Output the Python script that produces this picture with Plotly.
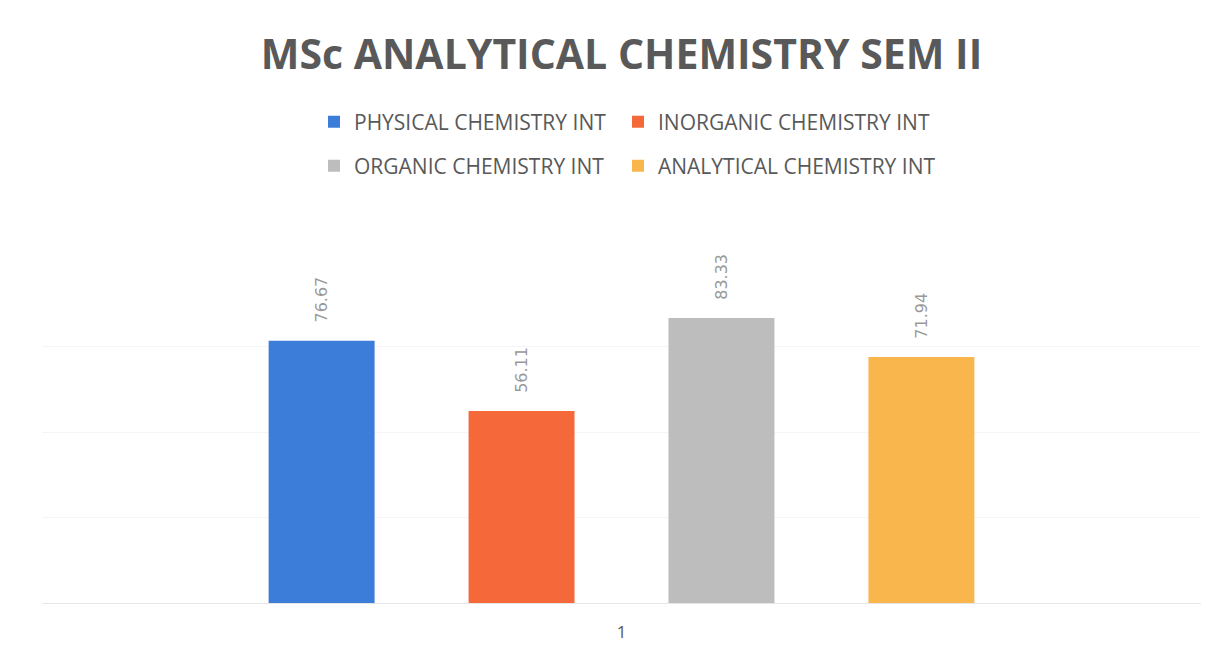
import plotly.graph_objects as go

categories = ["1"]
series_names = ["PHYSICAL CHEMISTRY INT", "INORGANIC CHEMISTRY INT",
                "ORGANIC CHEMISTRY INT", "ANALYTICAL CHEMISTRY INT"]
series_values = [76.67, 56.11, 83.33, 71.94]
series_colors = ["#3C7DD9", "#F4683A", "#BDBDBD", "#F8B64C"]
legend_ids = ["legend", "legend2", "legend3", "legend4"]

# page has an 8px body margin; figure sized/margined to compensate
W, H = 1213, 644
L, R, T, B = 34, 20, 253, 49
plot_h = H - T - B
plot_w = W - L - R


def py(page_y):
    return ((H - B) - (page_y - 8)) / plot_h


def px(page_x):
    return ((page_x - 8) - L) / plot_w


fig = go.Figure()
for name, val, col, lg in zip(series_names, series_values, series_colors, legend_ids):
    fig.add_trace(go.Bar(
        x=categories, y=[val], name=name, marker=dict(color=col, line=dict(width=0)),
        text=[f"{val:.2f}"], texttemplate="\u00a0\u00a0\u00a0%{text}",
        textposition="outside", textangle=-90, cliponaxis=False,
        textfont=dict(family="DejaVu Sans", size=16, color="#999999"),
        legend=lg,
    ))

legend_common = dict(orientation="v", xanchor="left", yanchor="middle",
                     font=dict(family="Open Sans", size=21, color="#595959"),
                     itemwidth=30, bgcolor="rgba(0,0,0,0)")

col_x = [314, 618]
row_y = [122, 166]

fig.update_layout(
    width=W, height=H,
    paper_bgcolor="white", plot_bgcolor="white",
    margin=dict(l=L, r=R, t=T, b=B, autoexpand=False),
    title=dict(text="<b>MSc ANALYTICAL CHEMISTRY SEM II</b>", x=0.5, xref="paper",
               xanchor="center", y=1 - (55 - 8) / H, yanchor="middle",
               font=dict(family="Open Sans", size=41, color="#595959")),
    barmode="group", bargap=0.31, bargroupgap=0.47,
    legend=dict(x=px(col_x[0]), y=py(row_y[0]), **legend_common),
    legend2=dict(x=px(col_x[1]), y=py(row_y[0]), **legend_common),
    legend3=dict(x=px(col_x[0]), y=py(row_y[1]), **legend_common),
    legend4=dict(x=px(col_x[1]), y=py(row_y[1]), **legend_common),
    xaxis=dict(range=[-0.5, 0.5], showgrid=False, showline=True, linecolor="#E6E6E6",
               linewidth=1, ticks="", ticklabelstandoff=14,
               tickfont=dict(family="Open Sans", size=17, color="#595959")),
    yaxis=dict(range=[0, 100], dtick=25, showgrid=True, gridcolor="#F5F5F5",
               showticklabels=False, zeroline=False, showline=False),
    showlegend=True,
)

fig.write_html("out.html")
